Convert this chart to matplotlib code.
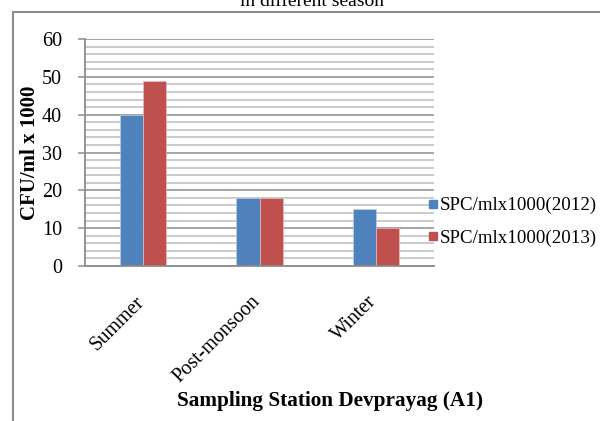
import matplotlib
matplotlib.use("Agg")
import matplotlib.pyplot as plt
import matplotlib.transforms as mtransforms
from matplotlib.lines import Line2D
from matplotlib.patches import Rectangle
from matplotlib.ticker import MultipleLocator
import numpy as np

plt.rcParams["font.family"] = ["Liberation Serif", "DejaVu Serif"]

# Seasonal standard plate counts, CFU/ml x 1000
seasons = ["Summer", "Post-monsoon", "Winter"]
spc_2012 = [40, 18, 15]
spc_2013 = [49, 18, 10]
series_names = ["SPC/mlx1000(2012)", "SPC/mlx1000(2013)"]
y_ticks = [0, 10, 20, 30, 40, 50, 60]

BLUE = "#4F81BD"
RED = "#C0504D"
GRID_MAJOR = "#8C8C8C"
GRID_MINOR = "#BDBDBD"

fig = plt.figure(figsize=(6.0, 4.21), dpi=100)
ax = fig.add_axes([85 / 600, 1 - 266 / 421, 349 / 600, 227 / 421])

x = np.arange(len(seasons))
w = 0.2
ax.bar(x - w / 2, spc_2012, width=w, color=BLUE, edgecolor="#C9D6EA", linewidth=0.4)
ax.bar(x + w / 2, spc_2013, width=w, color=RED, edgecolor="#EAC9C8", linewidth=0.4)

ax.set_xlim(-0.5, len(seasons) - 0.5)
ax.set_ylim(0, 60)
ax.set_yticks(y_ticks)
ax.yaxis.set_minor_locator(MultipleLocator(2))
ax.set_axisbelow(True)
ax.grid(axis="y", which="minor", color=GRID_MINOR, linewidth=1.1)
ax.grid(axis="y", which="major", color=GRID_MAJOR, linewidth=1.1)

for side in ["top", "right"]:
    ax.spines[side].set_visible(False)
for side in ["left", "bottom"]:
    ax.spines[side].set_color(GRID_MAJOR)
    ax.spines[side].set_linewidth(1.3)

ax.tick_params(axis="y", which="major", length=5, color=GRID_MAJOR, width=1.1,
               labelsize=14.5, pad=11.5)
ax.tick_params(axis="y", which="minor", length=0)
ax.tick_params(axis="x", length=0, labelsize=14.5, pad=19)

ax.set_xticks(x)
ax.set_xticklabels(seasons, rotation=45, ha="right", va="top")
shift = mtransforms.ScaledTranslation(5 / 100, 0, fig.dpi_scale_trans)
for lbl in ax.get_xticklabels():
    lbl.set_transform(lbl.get_transform() + shift)

ax.set_ylabel("CFU/ml x 1000", fontsize=15, fontweight="bold")
ax.yaxis.set_label_coords(-(85 - 40) / 349, 0.5)
ax.set_xlabel("Sampling Station Devprayag (A1)", fontsize=15.3, fontweight="bold")
ax.xaxis.set_label_coords((330 - 85) / 349, -(401 - 266) / 227)
ax.xaxis.label.set_va("center")

handles = [
    Line2D([], [], marker="s", linestyle="", color=BLUE, markersize=6),
    Line2D([], [], marker="s", linestyle="", color=RED, markersize=6),
]
fig.legend(handles, series_names, loc="center left",
           bbox_to_anchor=(426 / 600, 1 - 222 / 421), frameon=False,
           fontsize=13.6, handlelength=0.7, handletextpad=0.05,
           labelspacing=0.8, borderaxespad=0, borderpad=0)

# partially visible title and outer chart frame
fig.text(312 / 600, 1 - 6 / 421, "in different season", ha="center",
         va="baseline", fontsize=14)
fig.add_artist(Rectangle((13 / 600, -0.1), 1.2, 1.1 - 12 / 421,
                         transform=fig.transFigure, fill=False,
                         edgecolor=GRID_MAJOR, linewidth=1.5, clip_on=False))

fig.savefig("out.png", dpi=100)
